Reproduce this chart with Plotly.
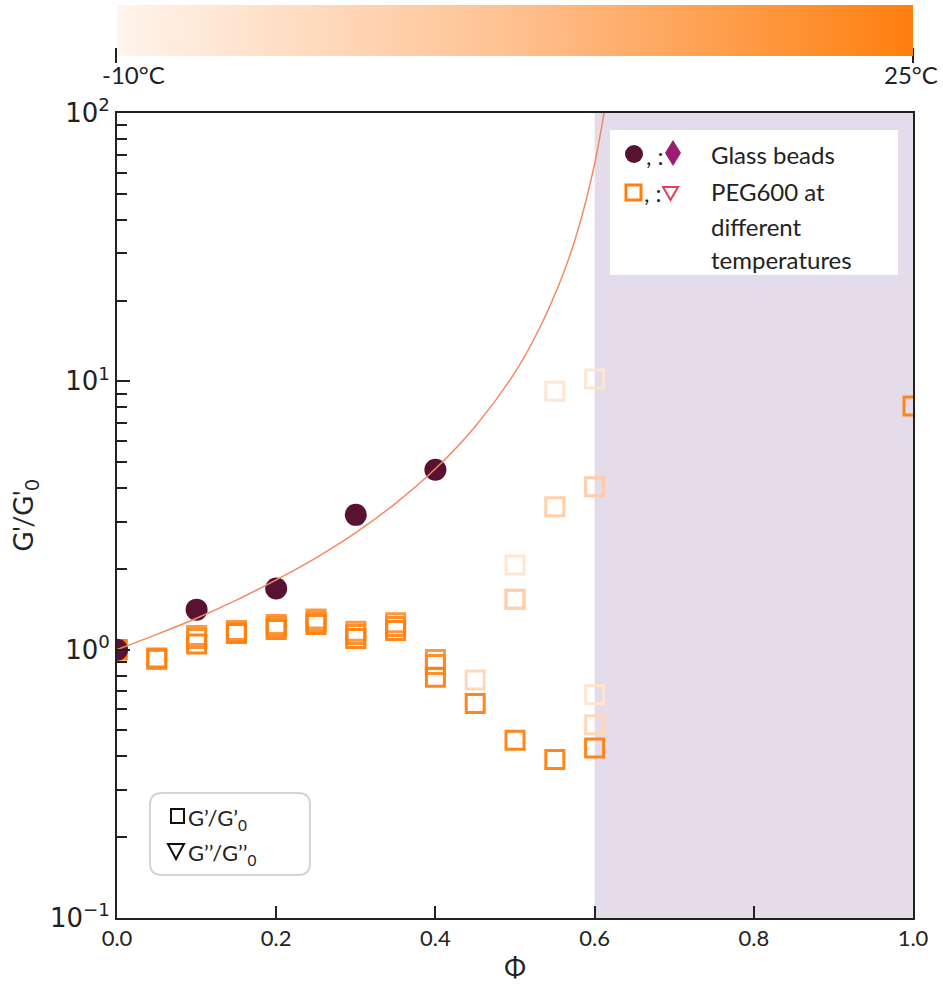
import plotly.graph_objects as go

# ---------------- data ----------------
phi_glass = [0.0, 0.1, 0.2, 0.3, 0.4]
g_glass = [1.0, 1.41, 1.69, 3.18, 4.68]

# fit curve
phi_fit = [0.0, 0.05, 0.1, 0.15, 0.2, 0.25, 0.3, 0.35, 0.4, 0.45, 0.5, 0.53, 0.56, 0.58, 0.6, 0.61, 0.615]
g_fit = [1.0, 1.14, 1.31, 1.53, 1.82, 2.20, 2.73, 3.51, 4.72, 6.79, 10.8, 15.6, 24.9, 37.4, 64.6, 92.8, 115]

# PEG600 squares: phi, G'/G'0, temperature (°C)
phi_peg = [0.5, 0.55, 0.6, 0.6,
           0.45, 0.5, 0.6,
           0.5, 0.55, 0.6,
           0.0, 0.05, 0.1, 0.15, 0.2, 0.25, 0.3, 0.35, 0.4,
           0.0, 0.1, 0.15, 0.2, 0.25, 0.3, 0.35, 0.4,
           0.0, 0.05, 0.1, 0.15, 0.2, 0.25, 0.3, 0.35, 0.4, 0.45, 0.5, 0.55, 0.6, 1.0]
g_peg = [2.07, 9.18, 10.2, 0.68,
         0.77, 1.54, 0.525,
         1.54, 3.41, 4.05,
         1.0, 0.92, 1.13, 1.18, 1.24, 1.30, 1.17, 1.26, 0.92,
         1.0, 1.10, 1.16, 1.22, 1.27, 1.14, 1.22, 0.88,
         1.0, 0.93, 1.05, 1.15, 1.19, 1.24, 1.10, 1.18, 0.79, 0.63, 0.46, 0.39, 0.43, 8.1]
t_peg = [-5, -5, -5, -5,
         0, 0, 0,
         3, 3, 4,
         20, 20, 20, 20, 20, 20, 20, 20, 20,
         22, 22, 22, 22, 22, 22, 22, 22,
         25, 25, 25, 25, 25, 25, 25, 25, 25, 25, 25, 25, 25, 25]

t_min, t_max = -10, 25
cbar_labels = ["-10°C", "25°C"]

x_ticks = [0.0, 0.2, 0.4, 0.6, 0.8, 1.0]
y_ticks = [0.1, 1, 10, 100]
y_labels = ["10<sup>−1</sup>", "10<sup>0</sup>", "10<sup>1</sup>", "10<sup>2</sup>"]
y_minor = [m * 10 ** e for e in (-1, 0, 1) for m in range(2, 10)]

# ---------------- layout helpers ----------------
W, H = 943, 990
L, R, T, B = 117, 30, 113, 72
PW, PH = W - L - R, H - T - B


def px_x(x):
    return (x - L) / PW


def px_y(y):
    return (H - B - y) / PH


orange_scale = [[0, "#fff4ec"], [0.5, "#ffc08f"], [1, "#ff7f0e"]]

fig = go.Figure()

fig.add_trace(go.Scatter(
    x=phi_peg, y=g_peg, mode="markers", showlegend=False,
    marker=dict(symbol="square-open", size=18, color=t_peg,
                cmin=t_min, cmax=t_max, colorscale=orange_scale,
                line=dict(width=3), opacity=0.95,
                showscale=True,
                colorbar=dict(orientation="h", x=0.5, xanchor="center", len=1.0,
                              lenmode="fraction", y=px_y(5), yanchor="top",
                              thickness=51, ypad=0, xpad=0, outlinewidth=0,
                              ticks="", showticklabels=False)),
))

fig.add_trace(go.Scatter(
    x=phi_glass, y=g_glass, mode="markers", showlegend=False,
    marker=dict(symbol="circle", size=22, color="#5a1232"),
))

fig.add_trace(go.Scatter(
    x=phi_fit, y=g_fit, mode="lines", showlegend=False,
    line=dict(color="#f4895f", width=1.5, shape="spline"),
))

shapes = []
# shaded region
shapes.append(dict(type="rect", xref="x", yref="paper", x0=0.6, x1=1.0, y0=0, y1=1,
                   fillcolor="#e4dcea", line=dict(width=0), layer="below"))
# colorbar end tick marks
for cx in (116, 913):
    shapes.append(dict(type="line", xref="paper", yref="paper",
                       x0=px_x(cx), x1=px_x(cx), y0=px_y(48), y1=px_y(63),
                       line=dict(color="#222", width=2)))
# top-right legend box
shapes.append(dict(type="rect", xref="paper", yref="paper",
                   x0=px_x(610), x1=px_x(898), y0=px_y(275), y1=px_y(130),
                   fillcolor="white", line=dict(width=0), layer="above"))
# circle symbol
shapes.append(dict(type="circle", xref="paper", yref="paper",
                   x0=px_x(625), x1=px_x(643), y0=px_y(163), y1=px_y(145),
                   fillcolor="#5a1232", line=dict(width=0)))
# diamond symbol
dx = [px_x(673), px_x(681), px_x(673), px_x(665)]
dy = [px_y(140), px_y(153), px_y(166), px_y(153)]
shapes.append(dict(type="path", xref="paper", yref="paper",
                   path=f"M {dx[0]} {dy[0]} L {dx[1]} {dy[1]} L {dx[2]} {dy[2]} L {dx[3]} {dy[3]} Z",
                   fillcolor="#9b1d6f", line=dict(width=0)))
# orange square symbol
shapes.append(dict(type="rect", xref="paper", yref="paper",
                   x0=px_x(626), x1=px_x(641), y0=px_y(200), y1=px_y(185),
                   line=dict(color="#ff7f0e", width=3)))
# red triangle symbol
tx = [px_x(663), px_x(678), px_x(670.5)]
ty = [px_y(187), px_y(187), px_y(200)]
shapes.append(dict(type="path", xref="paper", yref="paper",
                   path=f"M {tx[0]} {ty[0]} L {tx[1]} {ty[1]} L {tx[2]} {ty[2]} Z",
                   line=dict(color="#ee3a5a", width=2)))

# bottom-left legend box (rounded)
bx0, bx1, by0, by1, r = px_x(150), px_x(310), px_y(875), px_y(793), 12
rx, ry = r / PW, r / PH
shapes.append(dict(type="path", xref="paper", yref="paper",
                   path=(f"M {bx0+rx} {by0} L {bx1-rx} {by0} Q {bx1} {by0} {bx1} {by0+ry} "
                         f"L {bx1} {by1-ry} Q {bx1} {by1} {bx1-rx} {by1} "
                         f"L {bx0+rx} {by1} Q {bx0} {by1} {bx0} {by1-ry} "
                         f"L {bx0} {by0+ry} Q {bx0} {by0} {bx0+rx} {by0} Z"),
                   fillcolor="white", line=dict(color="#d4d4d4", width=2)))
shapes.append(dict(type="rect", xref="paper", yref="paper",
                   x0=px_x(171), x1=px_x(184), y0=px_y(823), y1=px_y(809),
                   line=dict(color="#111", width=2)))
ux = [px_x(168), px_x(184), px_x(176)]
uy = [px_y(844), px_y(844), px_y(859)]
shapes.append(dict(type="path", xref="paper", yref="paper",
                   path=f"M {ux[0]} {uy[0]} L {ux[1]} {uy[1]} L {ux[2]} {uy[2]} Z",
                   line=dict(color="#111", width=2)))

font_leg = dict(family="Lato", size=24, color="#222")
font_leg2 = dict(family="Lato", size=22, color="#222")
font_cb = dict(family="Lato", size=24, color="#222")
annotations = []


def add_text(text, x, y, xanchor="left", font=font_leg):
    annotations.append(dict(text=text, xref="paper", yref="paper", x=px_x(x), y=px_y(y),
                            xanchor=xanchor, yanchor="middle", showarrow=False, font=font))


# colorbar end labels
add_text(cbar_labels[0], 100, 75, font=font_cb)
add_text(cbar_labels[1], 911, 75, xanchor="center", font=font_cb)

add_text(", :", 644, 156)
add_text("Glass beads", 709, 154)
add_text(", :", 642, 193)
add_text("PEG600 at", 709, 191)
add_text("different", 709, 226)
add_text("temperatures", 709, 259)
add_text("G’/G’<sub>0</sub>", 186, 819, font=font_leg2)
add_text("G’’/G’’<sub>0</sub>", 186, 854, font=font_leg2)

fig.update_layout(
    width=W, height=H,
    margin=dict(l=L, r=R, t=T, b=B, autoexpand=False),
    paper_bgcolor="white", plot_bgcolor="white",
    shapes=shapes, annotations=annotations,
    xaxis=dict(range=[0, 1], tickvals=x_ticks, tickformat=".1f",
               ticks="inside", ticklen=12, tickwidth=2, tickcolor="#222",
               showline=True, linecolor="#222", linewidth=2, mirror=True,
               showgrid=False, zeroline=False,
               tickfont=dict(family="Lato", size=22, color="#222"),
               title=dict(text="Φ", font=dict(family="Lato", size=26, color="#222"), standoff=8)),
    yaxis=dict(type="log", range=[-1, 2], tickvals=y_ticks, ticktext=y_labels,
               ticks="inside", ticklen=13, tickwidth=2, tickcolor="#222",
               minor=dict(tickvals=y_minor, ticks="inside", ticklen=10, tickwidth=2,
                          tickcolor="#222", showgrid=False),
               showline=True, linecolor="#222", linewidth=2, mirror=True,
               showgrid=False, zeroline=False,
               tickfont=dict(family="DejaVu Sans", size=26, color="#222"),
               title=dict(text="G'/G'<sub>0</sub>", font=dict(family="Lato", size=27, color="#222"),
                          standoff=8)),
)

fig.write_html("out.html", config={"displayModeBar": False},
               post_script="document.body.style.margin='0';document.body.style.overflow='hidden';")
